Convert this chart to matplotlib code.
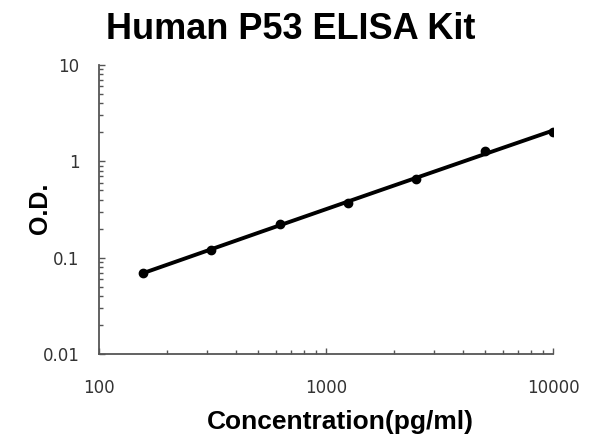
import numpy as np
import matplotlib
matplotlib.use("Agg")
import matplotlib.pyplot as plt
from matplotlib.ticker import LogLocator, FixedLocator, FixedFormatter, NullFormatter

# standard curve points
conc = [156.25, 312.5, 625, 1250, 2500, 5000, 10000]
od = [0.070, 0.119, 0.224, 0.366, 0.661, 1.29, 2.0]

xticks = [100, 1000, 10000]
xtick_labels = ["100", "1000", "10000"]
yticks = [0.01, 0.1, 1, 10]
ytick_labels = ["0.01", "0.1", "1", "10"]

plt.rcParams['font.family'] = ['DejaVu Sans']

fig = plt.figure(figsize=(6, 4.47), dpi=100)
ax = fig.add_axes([0.165, 0.208, 0.757, 0.647])

# trend line: quadratic fit in log-log space
lx = np.log10(conc)
ly = np.log10(od)
coef = np.polyfit(lx, ly, 2)
xs = np.linspace(lx[0], lx[-1], 200)
ax.plot(10 ** xs, 10 ** np.polyval(coef, xs), color='black', lw=2.8, zorder=2)
ax.plot(conc, od, 'o', color='black', ms=6, zorder=3)

ax.set_xscale('log')
ax.set_yscale('log')
ax.set_xlim(100, 10000)
ax.set_ylim(0.01, 10)

ax.xaxis.set_major_locator(FixedLocator(xticks))
ax.xaxis.set_major_formatter(FixedFormatter(xtick_labels))
ax.yaxis.set_major_locator(FixedLocator(yticks))
ax.yaxis.set_major_formatter(FixedFormatter(ytick_labels))
ax.xaxis.set_minor_locator(LogLocator(base=10, subs=np.arange(2, 10)))
ax.yaxis.set_minor_locator(LogLocator(base=10, subs=np.arange(2, 10)))
ax.xaxis.set_minor_formatter(NullFormatter())
ax.yaxis.set_minor_formatter(NullFormatter())

spine_col = '#555555'
for s in ['top', 'right']:
    ax.spines[s].set_visible(False)
for s in ['left', 'bottom']:
    ax.spines[s].set_color(spine_col)
    ax.spines[s].set_linewidth(1.3)

ax.tick_params(axis='both', which='major', direction='in', length=4, width=1,
               color=spine_col, labelsize=12, labelcolor='#333333')
ax.tick_params(axis='both', which='minor', direction='in', length=3, width=1,
               color=spine_col)
ax.tick_params(axis='x', which='major', pad=18)
ax.tick_params(axis='y', which='major', pad=14)

fig.text(0.485, 0.935, "Human P53 ELISA Kit", ha='center', va='center',
         fontsize=26, fontweight='bold', family='Liberation Sans')
fig.text(0.568, 0.056, "Concentration(pg/ml)", ha='center', va='center',
         fontsize=19, fontweight='bold', family='Liberation Sans')
fig.text(0.067, 0.535, "O.D.", ha='center', va='center', rotation=90,
         fontsize=18, fontweight='bold', family='Liberation Sans')

fig.savefig("out.png", dpi=100, facecolor='white')
